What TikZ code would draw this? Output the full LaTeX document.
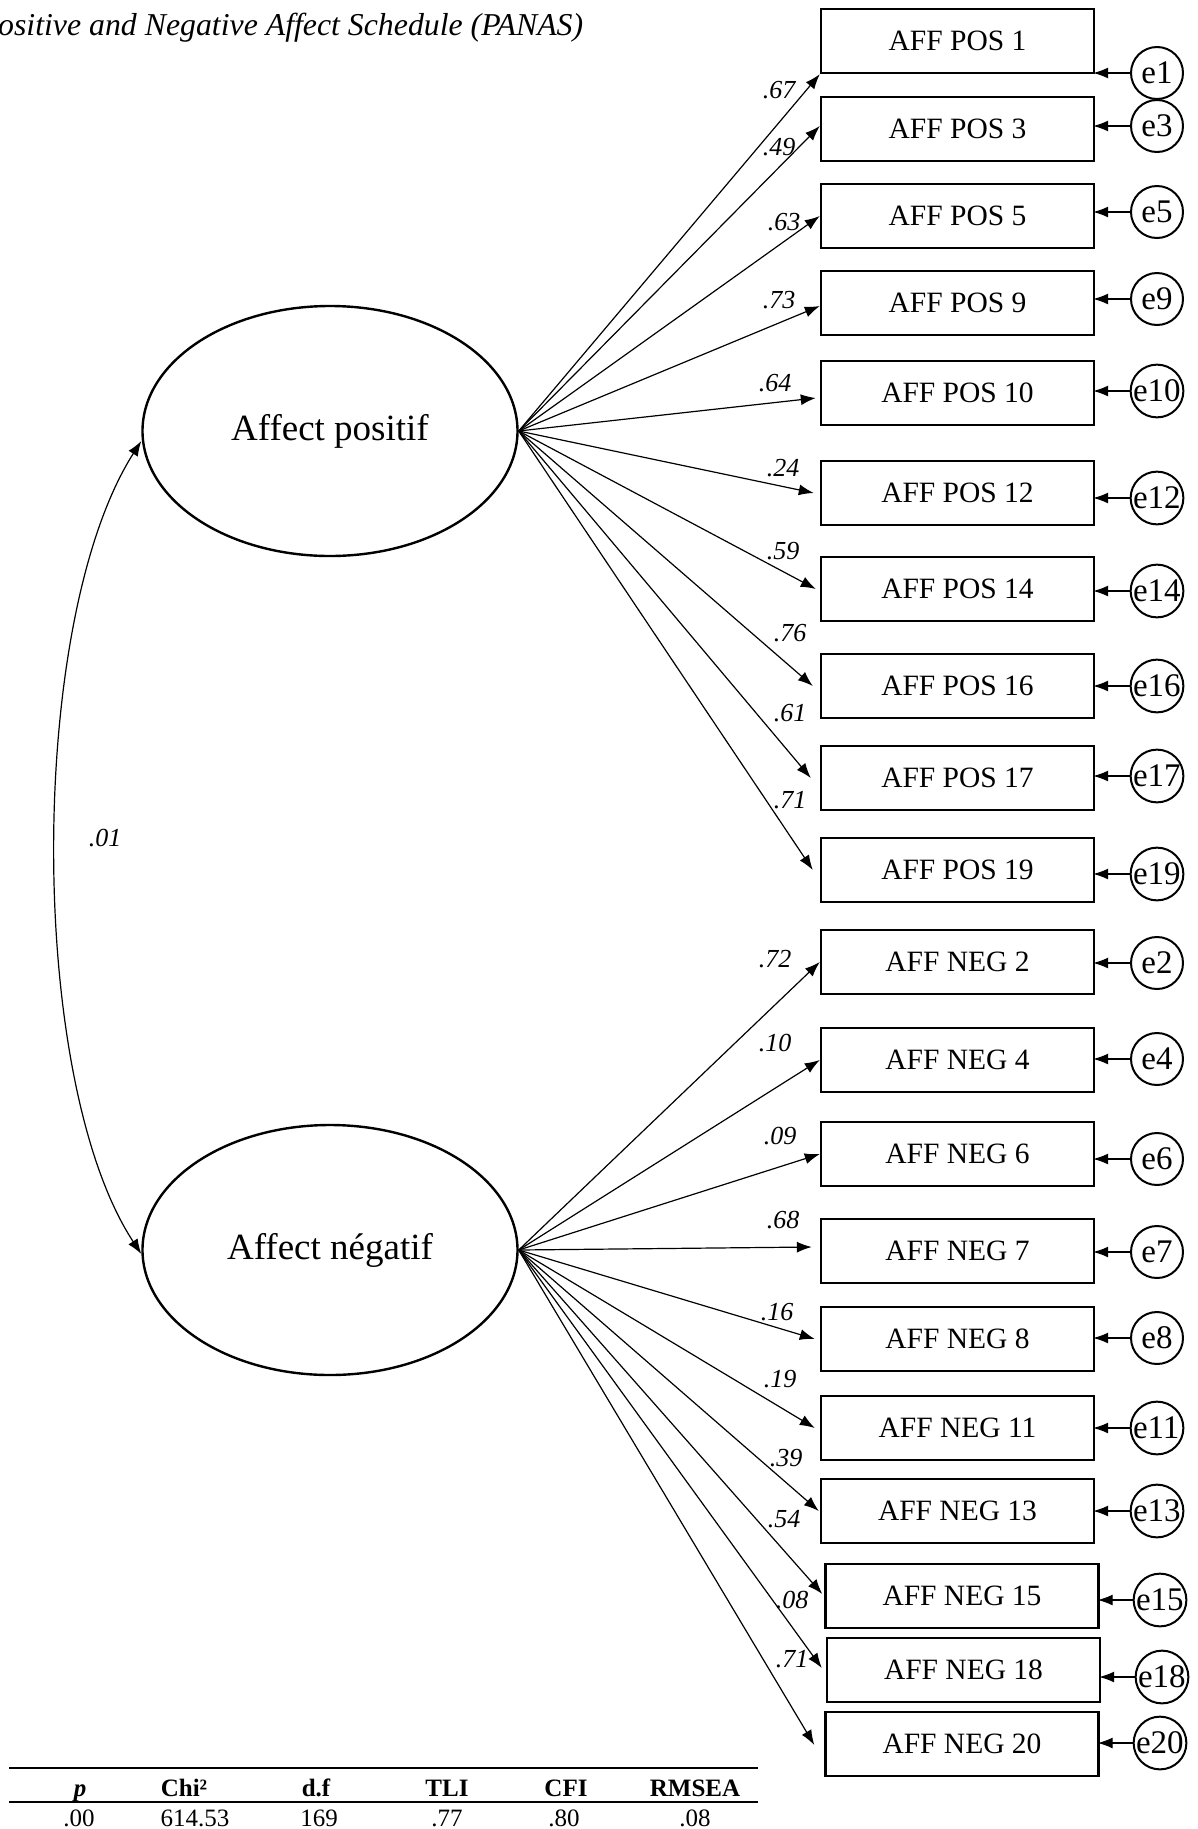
\documentclass[tikz,border=0pt]{standalone}
\usepackage{fontspec}
\setmainfont{Liberation Serif}
\usetikzlibrary{arrows.meta,shapes.geometric}
\begin{document}
\begin{tikzpicture}[x=1pt,y=-1pt,
  obs/.style={draw, line width=2.4pt, minimum width=273pt, minimum height=64pt, inner sep=0pt, font=\fontsize{29.5}{34}\selectfont},
  lat/.style={draw, ellipse, line width=2.4pt, minimum width=375pt, minimum height=250pt, inner sep=0pt, font=\fontsize{37}{42}\selectfont},
  err/.style={draw, circle, line width=2pt, minimum size=52pt, inner sep=0pt, font=\fontsize{33}{38}\selectfont},
  load/.style={line width=1.2pt, -{Latex[length=15pt,width=11pt]}},
  eline/.style={line width=1.2pt, shorten >=-2pt, -{Latex[length=15pt,width=11pt]}},
  cov/.style={line width=1.2pt, {Latex[length=15pt,width=11pt]}-{Latex[length=15pt,width=11pt]}},
  coef/.style={font=\fontsize{26}{30}\selectfont\itshape, inner sep=0pt},
  thead/.style={font=\fontsize{25}{29}\selectfont\bfseries, inner sep=0pt, anchor=base},
  tval/.style={font=\fontsize{25}{29}\selectfont, inner sep=0pt, anchor=base},
  rule/.style={line width=2.2pt}
]
\useasboundingbox (0,0) rectangle (1198,1829);
\newcommand{\ww}[1]{\makebox[48pt][l]{#1}}

% title
\node[anchor=west, inner sep=0pt, font=\fontsize{31.8}{36}\selectfont\itshape] (title) at (-2,28) {ositive and Negative Affect Schedule (PANAS)};

% latent variables
\node[lat] (AP) at (330,431) {Affect positif};
\node[lat] (AN) at (330,1250) {Affect négatif};

% observed variables
\node[obs] (p1)  at (957.5,41)  {AFF POS 1};
\node[obs] (p3)  at (957.5,129) {AFF POS 3};
\node[obs] (p5)  at (957.5,216) {AFF POS 5};
\node[obs] (p9)  at (957.5,303) {AFF POS 9};
\node[obs] (p10) at (957.5,393) {AFF POS 10};
\node[obs] (p12) at (957.5,493) {AFF POS 12};
\node[obs] (p14) at (957.5,589) {AFF POS 14};
\node[obs] (p16) at (957.5,686) {AFF POS 16};
\node[obs] (p17) at (957.5,778) {AFF POS 17};
\node[obs] (p19) at (957.5,870) {AFF POS 19};
\node[obs] (n2)  at (957.5,962) {AFF NEG 2};
\node[obs] (n4)  at (957.5,1060) {AFF NEG 4};
\node[obs] (n6)  at (957.5,1154) {AFF NEG 6};
\node[obs] (n7)  at (957.5,1251) {AFF NEG 7};
\node[obs] (n8)  at (957.5,1339) {AFF NEG 8};
\node[obs] (n11) at (957.5,1428) {AFF NEG 11};
\node[obs] (n13) at (957.5,1511) {AFF NEG 13};
\node[obs] (n15) at (962,1596) {AFF NEG 15};
\node[obs] (n18) at (963.5,1670) {AFF NEG 18};
\node[obs] (n20) at (962,1744) {AFF NEG 20};

% error terms
\node[err] (e1)  at (1157,73)   {e1};
\node[err] (e3)  at (1157,126)  {e3};
\node[err] (e5)  at (1157,212)  {e5};
\node[err] (e9)  at (1157,299)  {e9};
\node[err] (e10) at (1157,391)  {\ww{e10}};
\node[err] (e12) at (1157,498)  {\ww{e12}};
\node[err] (e14) at (1157,591)  {\ww{e14}};
\node[err] (e16) at (1157,686)  {\ww{e16}};
\node[err] (e17) at (1157,776)  {\ww{e17}};
\node[err] (e19) at (1157,874)  {\ww{e19}};
\node[err] (e2)  at (1157,963)  {e2};
\node[err] (e4)  at (1157,1059) {e4};
\node[err] (e6)  at (1157,1159) {e6};
\node[err] (e7)  at (1157,1252) {e7};
\node[err] (e8)  at (1157,1338) {e8};
\node[err] (e11) at (1157,1428) {\ww{e11}};
\node[err] (e13) at (1157,1511) {\ww{e13}};
\node[err] (e15) at (1160,1600) {\ww{e15}};
\node[err] (e18) at (1162,1677) {\ww{e18}};
\node[err] (e20) at (1160,1743) {\ww{e20}};

% error arrows
\foreach \e/\b in {e1/p1,e3/p3,e5/p5,e9/p9,e10/p10,e12/p12,e14/p14,e16/p16,e17/p17,e19/p19,
                   e2/n2,e4/n4,e6/n6,e7/n7,e8/n8,e11/n11,e13/n13,e15/n15,e18/n18,e20/n20}
  \draw[eline] (\e.west) -- (\e.west -| \b.east);

% loadings positive
\draw[load] (AP.east) -- (p1.south west);
\draw[load] (AP.east) -- ([yshift=3pt]p3.west);
\draw[load] (AP.east) -- (p5.west);
\draw[load] (AP.east) -- ([yshift=-3pt]p9.west);
\draw[load] (AP.east) -- ([xshift=-4pt,yshift=-5pt]p10.west);
\draw[load] (AP.east) -- ([xshift=-6pt,yshift=0pt]p12.west);
\draw[load] (AP.east) -- ([xshift=-4pt,yshift=0pt]p14.west);
\draw[load] (AP.east) -- ([xshift=-7pt,yshift=0pt]p16.west);
\draw[load] (AP.east) -- ([xshift=-9pt,yshift=0pt]p17.west);
\draw[load] (AP.east) -- ([xshift=-7pt,yshift=0pt]p19.west);

% loadings negative
\draw[load] (AN.east) -- (n2.west);
\draw[load] (AN.east) -- (n4.west);
\draw[load] (AN.east) -- (n6.west);
\draw[load] (AN.east) -- ([xshift=-8pt,yshift=4pt]n7.west);
\draw[load] (AN.east) -- ([xshift=-5pt]n8.west);
\draw[load] (AN.east) -- ([xshift=-5pt]n11.west);
\draw[load] (AN.east) -- ([xshift=-1pt]n13.west);
\draw[load] (AN.east) -- ([xshift=-2pt,yshift=2pt]n15.west);
\draw[load] (AN.east) -- ([xshift=-4pt,yshift=2pt]n18.west);
\draw[load] (AN.east) -- ([xshift=-10pt,yshift=-1pt]n20.west);

% covariance
\draw[cov] ([yshift=-10pt]AP.west) .. controls (27,620) and (27,1080) .. ([yshift=-4pt]AN.west);
\node[coef] (c01) at (105,838) {.01};

% coefficient labels
\node[coef] (l1)  at (779,90)   {.67};
\node[coef] (l3)  at (779,147)  {.49};
\node[coef] (l5)  at (784,222)  {.63};
\node[coef] (l9)  at (779,300)  {.73};
\node[coef] (l10) at (775,383)  {.64};
\node[coef] (l12) at (783,468)  {.24};
\node[coef] (l14) at (783,551)  {.59};
\node[coef] (l16) at (790,633)  {.76};
\node[coef] (l17) at (790,713)  {.61};
\node[coef] (l19) at (790,800)  {.71};
\node[coef] (m2)  at (775,959)  {.72};
\node[coef] (m4)  at (775,1043) {.10};
\node[coef] (m6)  at (780,1136) {.09};
\node[coef] (m7)  at (783,1220) {.68};
\node[coef] (m8)  at (777,1312) {.16};
\node[coef] (m11) at (780,1379) {.19};
\node[coef] (m13) at (786,1458) {.39};
\node[coef] (m15) at (784,1519) {.54};
\node[coef] (m18) at (792,1600) {.08};
\node[coef] (m20) at (792,1659) {.71};

% fit table
\draw[rule] (9,1768) -- (758,1768);
\draw[rule] (9,1802) -- (758,1802);
\node[thead] (hp)   at (80,1796)  {\itshape p};
\node[thead] (hchi) at (184,1796) {Chi²};
\node[thead] (hdf)  at (316,1796) {d.f};
\node[thead] (htli) at (447,1796) {TLI};
\node[thead] (hcfi) at (566,1796) {CFI};
\node[thead] (hrm)  at (695,1796) {RMSEA};
\node[tval] (vp)   at (79,1826)  {.00};
\node[tval] (vchi) at (195,1826) {614.53};
\node[tval] (vdf)  at (319,1826) {169};
\node[tval] (vtli) at (447,1826) {.77};
\node[tval] (vcfi) at (564,1826) {.80};
\node[tval] (vrm)  at (695,1826) {.08};
\end{tikzpicture}
\end{document}
